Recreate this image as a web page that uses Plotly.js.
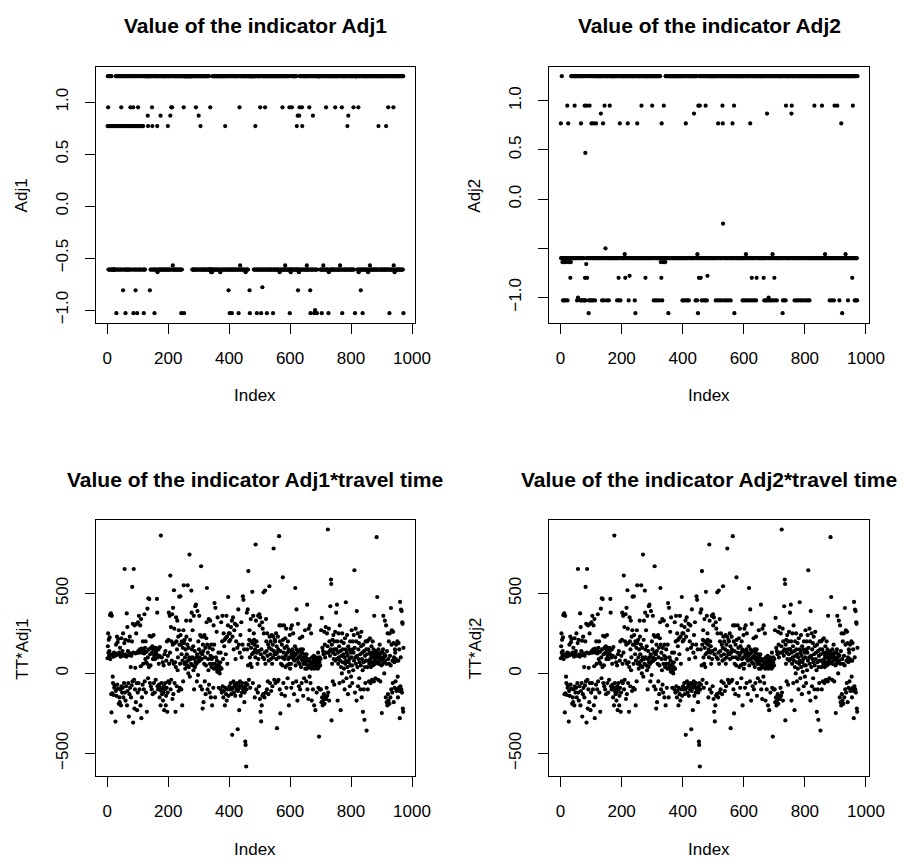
<!DOCTYPE html>
<html><head><meta charset="utf-8">
<script src="https://cdn.plot.ly/plotly-3.0.1.min.js"></script>
<style>html,body{margin:0;padding:0;background:#fff}#chart{width:904px;height:859px}</style>
</head><body><div id="chart"></div>
<script>
// ---- DATA ----
// level codes used in the code strings of the two indicator panels
const adj1LevelCodes  = ['H','L','M','U','A','B','C','D','E','F','G'];
const adj1LevelValues = [1.25,-0.61,-0.635,-0.57,0.95,0.87,0.77,-0.81,-0.78,-1.03,-1.0];
const adj2LevelCodes  = ['H','L','M','U','A','B','C','P','Q','R','S','D','E','F','G','K'];
const adj2LevelValues = [1.25,-0.60,-0.64,-0.56,0.95,0.87,0.77,0.47,-0.25,-0.50,-0.66,-0.80,-0.78,-1.03,-1.0,-1.16];

// one code per observation (Index 1..972), in groups of 10
const adj1Codes = [
"CHALCHLCHL","HCLHLCLLCL","LCLLCLLHCF","HLCHHLCLHC","HLHCLAHLCH",
"HDLCHHLCLF","HCLHLCHLCH","LHCLHACLHC","LHCHAFLCHL","CHDLHCLFHC",
"ALCHLCHLCH","LCHHCLHCLF","HLHLHHHHHH","HHBCHHHHHD","HLHLHHACLH",
"LHHLFHLHHL","HLHCMHHLHL","LHHLBHLHLH","HLLHHLHLHH","LHLHHLHLCH",
"LHLHHLBLHA","HLAHULHHLH","LHLHHLHLHL","HHLHLHHLHL","HLFHLHHHHH",
"AFHHHHHHHH","HHHHHHHHHH","HHHHHHHHLH","LHLHHLHLHL","AHLHLHHLHB",
"HLHLHCLHHL","HLHHLHLHLH","LHHLHLHHLH","LHLHLLLALL","MLLMLHLHHL",
"HLHHLHLHLH","HLHLHHLHLH","MHHLHLHHLH","HLHLHHCLHL","HHLHLHLDHL",
"HFLHLHLHFL","HLHHLHLHLH","LHLHHLHLHL","FHLAHULHLH","HLHLHHLHLH",
"LHHMHLHLHL","HLHHHHDFHH","HHHHHHHHHH","LHLHHCLHLH","FHLHLHHLHL",
"HALHFLHLEH","LHLHHLHALH","LHHFLHLHLH","HLHLHHLHLH","LHHFLHLHLH",
"HLHLHHLHLH","LHLHHMHLHL","HHLHALHLHL","HLHULHHLHL","HLHLHHLAFL",
"LMLHLALHLH","HLHLHHLHLH","LCLLBDLLMB","AHLHLHLHAC","HLHLHHLHLH",
"LHLHULHLHL","HLAHLDFHLH","LHLHBLHHFL","HGLHLHHFLH","HHHHHHHHLH",
"LHLFHLHLUH","LHHLHLHALH","LHLHHFMHLH","HLHLHHLHLH","LHLHHLHALH",
"HLHLHHLHLH","LHLUHLHLHA","FHLHLHHLHL","HLHLHHLCLH","BHLHLHHLHL",
"HLHLHHLALH","HHFHHHHHHL","HLHAMHLHLH","LDHLHLHFLH","HLHLHHLHLH",
"LHLHHMHLHL","HULHLHHLHL","HLHLHHLHLH","LHHLHLHLHC","HLHLHHLHLH",
"LHLHHLHLHL","HLHLCHLHLH","LAHLHFLHLH","HLHLHHLHAU","LHMHHLHLHL",
"HLHLHHLHLH","LHLHHLHLHL","HF"];

const adj2Codes = [
"CLLHLMLFLL","MFLLMLFLLM","LAFLCLMLLM","LDLMHLHLHH","LHLHLAHLHL",
"HLHFLHGLHL","HLHLFHCLFH","LHLFHLHFAD","PFHSLADHLH","LKFHALFHLH",
"CFLHLHFCLH","LHFLHCLHLH","HLHLHHLHLH","LBHLHFLHCL","FHLAHLRHLH",
"FLHLHHLFLH","ALHLHHLHLH","LHLHHLHLHL","HLHLFHLHLD","FHLCHFLHLH",
"LHLHHLHLHU","LDHLHLHLHC","HLFHLEHLHL","HLHHLHLHLH","LHFHKLHLHL",
"CHLHLHHLHL","HLHLAHLHLH","LHLHHLHDLH","HLHLHHLHLH","LHLHHLHLHA",
"HLHLFHLHLH","FHLHLHFLHL","HLHFLHLMLD","CLFLMLLALM","LLMHLHLHHL",
"HLKHLHLHLH","LHHLHLHLHL","HLHHLHLHLH","LHLHHLHLHL","HLHLHHLHFL",
"HLHFLHLHLC","FHLHFLHLHF","HLHLHHLHLH","LHLHHLBHLH","HFLHLHFULK",
"ALDHLAHLDH","LFHLHLHLFH","LHLFAHLHFL","EHLHLHHLHL","HLHLHHLHLH",
"LHLHHLHFLH","LHLFHCLHLH","FHLHLHLFHA","CQHLHLFHLH","LHFLHLHLHF",
"HLHLHHFLHL","HLCHLHLAKH","LHLHHLHLHL","HLHLHHLHLH","LHLHHFLHLH",
"LFHLHLUFHL","HLHFLHLHLF","CHLHLDFHLH","LHLFHLHLHF","HDLHLHHLHL",
"HLHLHHLHLH","LHLHDLFHLH","LFHLHBFHLH","GLHFLHLHFL","HLHUFHLHLD",
"HFLHLHLFHL","HLHLHHLHLH","LHLHHLKFHL","HFLHLHFALH","LHLHHLHLHL",
"HLHLHBAHLH","LHLHHFLHLH","LFHLHLHFLH","HLHLFHLHLH","FHLHLHHFLH",
"LHLFHLHLHF","HLHLFHLHLH","LHLHHLHLHL","AHLHLHHLHL","HLHLHHLHLH",
"LHLHLAHLHL","HLHLHULHLH","LHLHHLHLHL","FHLHLHLFHL","HLHLFHALHL",
"HLHLHALHLH","LHFLHLHLCH","LKHLHLHLHL","HLUHLHHLHL","FHLHLHLHHL",
"HLHLDHALHL","HLFHLHFLHL","FH"];

// TT*Adj values (Index 1..972); the two lower panels show the same values
const ttAdj1 = [
95,170,250,130,210,110,140,225,365,90,115,375,-130,-244,360,-125,120,-20,-60,105,-135,130,-90,-75,110,125,-301,-110,180,-140,115,230,-70,195,-95,215,120,-190,130,-150,-180,160,-100,105,-200,220,-80,125,-120,140,
-90,250,-150,110,-60,190,653,-120,210,-170,120,-80,105,375,-200,290,-110,140,-60,205,-270,115,-130,230,-90,125,40,-150,110,-75,200,541,-50,310,-307,130,653,-40,-220,300,-100,35,125,-180,250,-60,310,-230,130,-120,
320,140,-60,360,130,-100,150,300,-200,45,340,-280,155,-150,130,-70,200,60,145,-100,125,370,-50,160,90,200,-120,70,135,-240,60,405,100,-30,470,150,40,465,235,-60,120,50,-80,160,230,-100,130,170,-130,90,
150,240,-60,110,160,-120,90,130,-40,160,140,120,466,380,-80,100,-100,150,60,-70,110,-150,165,-90,-200,862,-110,-60,100,-130,-90,70,-170,-120,50,-80,-230,120,-100,-60,140,-200,-140,80,-90,200,-240,-120,110,-50,
210,380,60,-60,360,130,612,-100,290,-40,200,80,370,-160,180,410,-130,60,520,280,-60,190,70,-240,40,350,200,-80,150,330,20,100,230,-110,270,480,180,-90,60,482,240,180,-100,120,200,-200,80,160,-50,270,
551,190,60,210,100,30,150,70,330,230,120,50,180,551,80,0,160,40,100,743,-20,210,330,90,60,518,380,150,100,270,50,170,20,360,-100,90,140,40,420,70,430,100,60,-50,120,390,70,-10,200,80,
150,360,100,80,240,-80,130,670,230,90,-100,120,-220,180,140,-180,230,60,240,-50,100,160,-130,50,220,320,534,180,-100,130,90,20,340,-70,160,-120,60,330,110,-150,180,40,90,-200,100,150,60,-90,300,30,
180,440,60,-150,410,40,100,30,260,80,10,350,50,20,130,-90,60,20,0,40,70,130,-100,320,30,-120,200,360,-80,90,-150,250,-110,170,210,-200,-90,220,120,-130,360,-170,230,60,-100,300,478,-140,250,200,
-80,250,-100,210,-60,290,-130,-100,330,-384,230,-90,350,-50,150,-120,270,-70,310,-140,90,-80,200,-100,300,-60,160,-349,-110,400,-70,180,-230,-90,130,-50,240,-140,-80,320,100,-120,-60,180,482,-100,460,-90,150,-180,
-120,-80,-426,-447,-60,-582,-100,380,150,-70,400,50,640,180,-40,210,270,100,-90,60,340,160,200,40,120,510,190,-60,360,130,250,210,180,-150,150,100,806,330,-100,200,130,170,60,-120,360,90,140,-80,370,300,
-160,350,-240,120,-300,150,-200,320,-140,280,100,-130,507,250,90,-150,130,518,60,-120,340,200,140,-100,250,110,-50,180,-130,80,160,545,230,-60,120,200,90,-110,150,240,60,-80,180,100,230,781,140,-40,120,210,
200,-60,120,250,90,170,-342,130,-50,230,150,-40,100,858,300,-100,200,-250,140,60,300,-130,180,100,50,601,210,-60,130,300,90,160,-140,220,40,110,280,-90,170,50,130,-30,200,90,150,-200,60,100,240,30,
140,280,60,-90,120,300,100,150,-60,250,90,130,-130,80,110,170,534,50,120,-50,400,150,90,-170,130,310,70,100,-80,140,60,220,-100,110,150,40,90,-60,130,230,80,150,-140,60,100,-30,120,80,270,30,
60,100,-50,120,30,430,-100,80,50,-160,280,40,90,-20,300,70,-60,60,250,30,-170,100,70,40,-100,80,50,110,-200,30,90,60,-230,70,40,100,-120,60,80,50,30,130,-90,40,-395,70,100,-100,50,90,
-100,270,-180,347,-150,160,-200,140,-170,120,-130,260,-190,180,100,-150,290,-160,130,-90,250,-140,170,900,-120,130,280,-170,200,140,110,420,150,587,559,-294,180,60,210,-50,130,240,90,150,-70,200,120,260,80,150,
380,150,90,430,200,-170,130,60,250,100,170,-60,300,80,140,-230,40,200,110,0,250,150,70,-50,120,190,30,100,-100,220,60,150,445,80,-30,130,240,40,110,-130,170,70,10,150,90,-80,200,50,130,-20,
100,270,50,-60,150,200,20,130,240,80,645,160,-120,100,280,60,200,-170,390,110,40,250,-80,150,90,190,-30,70,230,120,-100,50,170,260,-150,90,130,20,-240,180,70,-100,140,-290,40,110,-60,200,80,150,
-357,120,200,40,-100,80,150,210,-50,60,130,220,90,-60,40,110,170,70,-40,130,200,50,100,150,-50,360,80,120,60,-30,140,90,100,852,130,478,70,110,-40,150,60,100,120,180,80,-50,90,130,100,50,
-248,90,130,60,150,360,100,70,0,120,330,80,110,-150,300,60,-180,140,-200,250,-130,90,-170,200,60,-190,250,110,-150,50,409,-100,180,270,-120,80,-60,260,190,-180,100,70,-90,150,130,-50,90,180,-110,80,
-100,200,-20,-150,80,190,-90,150,-110,-280,447,-80,100,399,-100,390,-120,320,310,-220,-240,160];
const ttAdj2 = ttAdj1.slice();

const xTickVals = [0,200,400,600,800,1000];
const adjTickVals = [-1.0,-0.5,0.0,0.5,1.0];
const adj1TickText = ['\u22121.0','\u22120.5','0.0','0.5','1.0'];
const adj2TickText = ['\u22121.0','','0.0','0.5','1.0'];
const ttTickVals = [-500,0,500];
const ttTickText = ['\u2212500','0','500'];

const titles = ['Value of the indicator Adj1','Value of the indicator Adj2',
                'Value of the indicator Adj1*travel time','Value of the indicator Adj2*travel time'];
const yLabels = ['Adj1','Adj2','TT*Adj1','TT*Adj2'];
const xLabel = 'Index';

// ---- BUILD ----
function decode(groups, codes, vals){
  const s = groups.join('');
  return s.split('').map(ch => vals[codes.indexOf(ch)]);
}
const adj1 = decode(adj1Codes, adj1LevelCodes, adj1LevelValues);
const adj2 = decode(adj2Codes, adj2LevelCodes, adj2LevelValues);
const series = [adj1, adj2, ttAdj1, ttAdj2];

function rRange(lo, hi){ const d = 0.04*(hi-lo); return [lo-d, hi+d]; }

const W = 904, H = 859;
const FONT = 'Liberation Sans, Arial, Helvetica, sans-serif';
const boxes = [ // [x0,x1,y0,y1] in px
  [95.7,415.3,66.7,322.7],[549,869.3,66.7,322.7],
  [95.7,415.3,520,776],[549,869.3,520,776]];

const traces = series.map((v,k) => ({
  type:'scatter', mode:'markers',
  x: v.map((_,i)=>i+1), y: v,
  xaxis: k===0?'x':'x'+(k+1), yaxis: k===0?'y':'y'+(k+1),
  marker:{color:'#000', size:4.2, line:{width:0}},
  hoverinfo:'skip', showlegend:false
}));

const layout = {
  width:W, height:H, margin:{l:0,r:0,t:0,b:0},
  paper_bgcolor:'#fff', plot_bgcolor:'#fff', showlegend:false,
  font:{family:FONT, color:'#000', size:17},
  annotations:[]
};
const common = {
  showline:true, mirror:true, linecolor:'#000', linewidth:1,
  ticks:'outside', ticklen:10, tickwidth:1, tickcolor:'#000',
  showgrid:false, zeroline:false, fixedrange:true,
  tickfont:{family:FONT, size:17, color:'#000'}
};
series.forEach((v,k) => {
  const b = boxes[k];
  const sx = k===0?'':(k+1);
  const n = v.length;
  const lo = Math.min(...v), hi = Math.max(...v);
  let yt = k<2 ? {tickvals:adjTickVals, ticktext: k===0?adj1TickText:adj2TickText}
               : {tickvals:ttTickVals, ticktext:ttTickText};
  layout['xaxis'+sx] = Object.assign({}, common, {
    domain:[b[0]/W, b[1]/W], anchor:'y'+sx, range:rRange(1,n),
    tickvals:xTickVals, ticklabelstandoff:10
  });
  layout['yaxis'+sx] = Object.assign({}, common, {
    domain:[1-b[3]/H, 1-b[2]/H], anchor:'x'+sx, range:rRange(lo,hi),
    tickangle:-90, ticklabelstandoff:10
  }, yt);
  const cx = (b[0]+b[1])/2;
  layout.annotations.push({text:'<b>'+titles[k]+'</b>', xref:'paper', yref:'paper',
    x:cx/W, y:1-(b[2]-41)/H, xanchor:'center', yanchor:'middle', showarrow:false,
    font:{family:FONT, size:21, color:'#000'}});
  layout.annotations.push({text:xLabel, xref:'paper', yref:'paper',
    x:cx/W, y:1-(b[3]+73)/H, xanchor:'center', yanchor:'middle', showarrow:false,
    font:{family:FONT, size:17, color:'#000'}});
  layout.annotations.push({text:yLabels[k], xref:'paper', yref:'paper', textangle:-90,
    x:(b[0]-74)/W, y:1-((b[2]+b[3])/2+1)/H, xanchor:'center', yanchor:'middle', showarrow:false,
    font:{family:FONT, size:17, color:'#000'}});
});

Plotly.newPlot('chart', traces, layout, {staticPlot:true, displayModeBar:false});
</script>
</body></html>
